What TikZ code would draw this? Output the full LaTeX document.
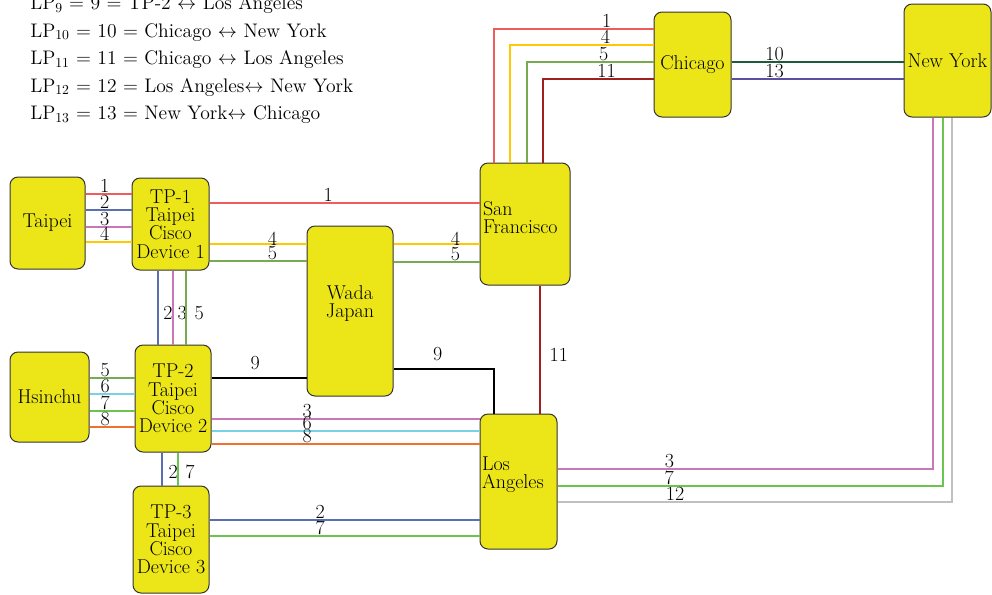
\documentclass[tikz,border=0pt]{standalone}
\definecolor{boxy}{HTML}{ECE619}
\definecolor{cA}{HTML}{EE5C5C}
\definecolor{cB}{HTML}{5A6EB4}
\definecolor{cC}{HTML}{C878B8}
\definecolor{cD}{HTML}{FFC800}
\definecolor{cE}{HTML}{78AA50}
\definecolor{cF}{HTML}{78D2E6}
\definecolor{cG}{HTML}{6CC450}
\definecolor{cH}{HTML}{F07030}
\definecolor{cJ}{HTML}{1E5A3C}
\definecolor{cK}{HTML}{A02020}
\definecolor{cL}{HTML}{C0C0C0}
\definecolor{cM}{HTML}{5A50A0}
\tikzset{
  box/.style={draw=black!80, line width=0.75pt, fill=boxy, rounded corners=6pt,
    inner sep=0pt, align=center, font=\fontsize{15}{13.7}\selectfont},
  lab/.style={font=\fontsize{15}{15}\selectfont, inner sep=0pt, anchor=south, yshift=0.5pt},
  vlab/.style={font=\fontsize{15}{15}\selectfont, inner sep=0pt, anchor=west},
  ln/.style={line width=1pt},
  hdr/.style={font=\fontsize{14.7}{15}\selectfont, inner sep=0pt, anchor=base west},
}
\begin{document}
\begin{tikzpicture}[x=0.75pt,y=-0.75pt]
\useasboundingbox (0,0) rectangle (992,594);
% header
\node[hdr] (lp9)  at (30,9.5)   {LP\textsubscript{9} = 9 = TP-2 $\leftrightarrow$ Los Angeles};
\node[hdr] (lp10) at (30,37)    {LP\textsubscript{10} = 10 = Chicago $\leftrightarrow$ New York};
\node[hdr] (lp11) at (30,64.5)  {LP\textsubscript{11} = 11 = Chicago $\leftrightarrow$ Los Angeles};
\node[hdr] (lp12) at (30,92)    {LP\textsubscript{12} = 12 = Los Angeles$\leftrightarrow$ New York};
\node[hdr] (lp13) at (30,119.5) {LP\textsubscript{13} = 13 = New York$\leftrightarrow$ Chicago};
% boxes
\node[box, minimum width=56.25pt, minimum height=69pt] (taipei) at (47.5,223) {Taipei};
\node[box, minimum width=57.75pt, minimum height=69pt] (tp1) at (170.5,224) {TP-1\\Taipei\\Cisco\\Device 1};
\node[box, minimum width=59.25pt, minimum height=67.5pt] (hsinchu) at (49.5,397) {Hsinchu};
\node[box, minimum width=57pt, minimum height=80.25pt] (tp2) at (173,398.5) {TP-2\\Taipei\\Cisco\\Device 2};
\node[box, minimum width=57pt, minimum height=80.25pt] (tp3) at (171,539.5) {TP-3\\Taipei\\Cisco\\Device 3};
\node[box, minimum width=64.5pt, minimum height=127.5pt] (wada) at (350,311) {Wada\\Japan\\\mbox{}};
\node[box, align=left, inner xsep=2.25pt, text width=63pt, minimum height=91.5pt] (sf) at (525,224) {San\\Francisco\\[-4pt]\mbox{}};
\node[box, align=left, inner xsep=1.5pt, text width=54.75pt, minimum height=101.25pt] (la) at (518.5,481.5) {Los\\Angeles\\\mbox{}};
\node[box, minimum width=57.75pt, minimum height=78.75pt] (chicago) at (692.5,64.5) {Chicago};
\node[box, minimum width=65.25pt, minimum height=84.75pt] (ny) at (947.5,60.5) {New York};
% Taipei - TP-1
\draw[ln,cA] (taipei.east |- 0,194) -- node[lab,pos=0.42,black]{1} (tp1.west |- 0,194);
\draw[ln,cB] (taipei.east |- 0,210) -- node[lab,pos=0.42,black]{2} (tp1.west |- 0,210);
\draw[ln,cC] (taipei.east |- 0,227) -- node[lab,pos=0.42,black]{3} (tp1.west |- 0,227);
\draw[ln,cD] (taipei.east |- 0,242) -- node[lab,pos=0.42,black]{4} (tp1.west |- 0,242);
% TP-1 - SF / Wada
\draw[ln,cA] (tp1.east |- 0,203) -- node[lab,pos=0.44,black]{1} (sf.west |- 0,203);
\draw[ln,cD] (tp1.east |- 0,244) -- node[lab,pos=0.65,black,yshift=-2pt]{4} (wada.west |- 0,244);
\draw[ln,cE] (tp1.east |- 0,261) -- node[lab,pos=0.65,black]{5} (wada.west |- 0,261);
\draw[ln,cD] (wada.east |- 0,244) -- node[lab,pos=0.72,black,yshift=-2pt]{4} (sf.west |- 0,244);
\draw[ln,cE] (wada.east |- 0,262) -- node[lab,pos=0.72,black]{5} (sf.west |- 0,262);
% TP-1 - TP-2
\draw[ln,cB] (tp1.south -| 158,0) -- node[vlab,pos=0.57,black,xshift=3.5pt]{2} (tp2.north -| 158,0);
\draw[ln,cC] (tp1.south -| 173,0) -- node[vlab,pos=0.57,black,xshift=3pt]{3} (tp2.north -| 173,0);
\draw[ln,cE] (tp1.south -| 186,0) -- node[vlab,pos=0.57,black,xshift=6pt]{5} (tp2.north -| 186,0);
% Hsinchu - TP-2
\draw[ln,cE] (hsinchu.east |- 0,378) -- node[lab,pos=0.35,black]{5} (tp2.west |- 0,378);
\draw[ln,cF] (hsinchu.east |- 0,394) -- node[lab,pos=0.35,black]{6} (tp2.west |- 0,394);
\draw[ln,cG] (hsinchu.east |- 0,411) -- node[lab,pos=0.35,black]{7} (tp2.west |- 0,411);
\draw[ln,cH] (hsinchu.east |- 0,427) -- node[lab,pos=0.35,black]{8} (tp2.west |- 0,427);
% TP-2 - Wada - LA
\draw[ln,black] (tp2.east |- 0,378) -- node[lab,pos=0.46,yshift=5pt]{9} (wada.west |- 0,378);
\draw[ln,black] (wada.east |- 0,369) -| node[lab,pos=0.22,yshift=5pt]{9} (la.north -| 494,0);
% TP-2 - LA
\draw[ln,cC] (tp2.east |- 0,419) -- node[lab,pos=0.357,black]{3} (la.west |- 0,419);
\draw[ln,cF] (tp2.east |- 0,431) -- node[lab,pos=0.357,black]{6} (la.west |- 0,431);
\draw[ln,cH] (tp2.east |- 0,444) -- node[lab,pos=0.357,black]{8} (la.west |- 0,444);
% TP-2 - TP-3
\draw[ln,cB] (tp2.south -| 162,0) -- node[vlab,pos=0.59,black,xshift=4.5pt]{2} (tp3.north -| 162,0);
\draw[ln,cG] (tp2.south -| 178,0) -- node[vlab,pos=0.59,black,xshift=5pt]{7} (tp3.north -| 178,0);
% TP-3 - LA
\draw[ln,cB] (tp3.east |- 0,520) -- node[lab,pos=0.41,black]{2} (la.west |- 0,520);
\draw[ln,cG] (tp3.east |- 0,536) -- node[lab,pos=0.41,black]{7} (la.west |- 0,536);
% SF - LA
\draw[ln,cK] (sf.south -| 540,0) -- node[vlab,pos=0.54,black,xshift=6.75pt]{11} (la.north -| 540,0);
% SF - Chicago
\draw[ln,cA] (sf.north -| 494,0) |- node[lab,pos=0.853,black]{1} (chicago.west |- 0,29);
\draw[ln,cD] (sf.north -| 510,0) |- node[lab,pos=0.833,black]{4} (chicago.west |- 0,45);
\draw[ln,cE] (sf.north -| 527,0) |- node[lab,pos=0.803,black]{5} (chicago.west |- 0,62);
\draw[ln,cK] (sf.north -| 543,0) |- node[lab,pos=0.788,black]{11} (chicago.west |- 0,79);
% Chicago - NY
\draw[ln,cJ] (chicago.east |- 0,62) -- node[lab,pos=0.25,black]{10} (ny.west |- 0,62);
\draw[ln,cM] (chicago.east |- 0,79) -- node[lab,pos=0.25,black]{13} (ny.west |- 0,79);
% NY - LA
\draw[ln,cC] (ny.south -| 933,0) |- node[lab,pos=0.851,black]{3} (la.east |- 0,469);
\draw[ln,cG] (ny.south -| 943,0) |- node[lab,pos=0.855,black]{7} (la.east |- 0,486);
\draw[ln,cL] (ny.south -| 952,0) |- node[lab,pos=0.851,black]{12} (la.east |- 0,502);
\end{tikzpicture}
\end{document}
